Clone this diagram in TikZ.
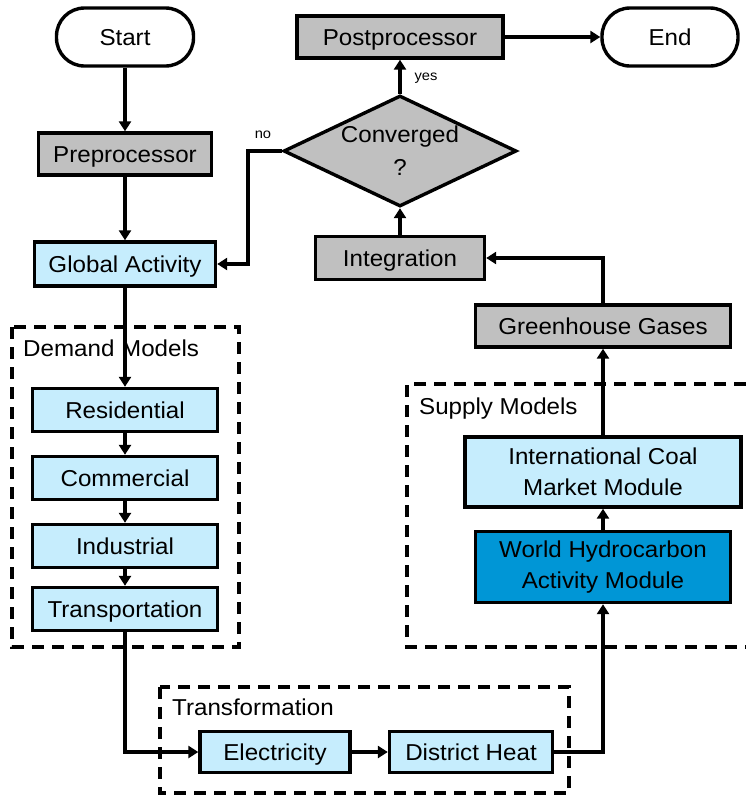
\documentclass[tikz,border=0pt]{standalone}
\usepackage{fontspec}
\setmainfont{Liberation Sans}[FakeStretch=1.05]
\usetikzlibrary{arrows.meta,shapes.geometric}
\definecolor{lightbox}{HTML}{C6EDFD}
\definecolor{graybox}{HTML}{C0C0C0}
\definecolor{darkbox}{HTML}{0096D6}
\begin{document}
\begin{tikzpicture}[x=1pt,y=-1pt,
  every node/.style={font=\fontsize{23}{27}\selectfont, inner sep=0pt},
  one/.style={text height=16.5pt, text depth=0pt},
  box/.style={draw, line width=3.4pt, rectangle, align=center},
  lbox/.style={box, fill=lightbox},
  gbox/.style={box, fill=graybox},
  dbox/.style={box, fill=darkbox},
  term/.style={draw, line width=3.4pt, rectangle, rounded corners=28pt, fill=white, one},
  conn/.style={line width=3.4pt, -{Triangle[length=10pt,width=12pt]}},
  grp/.style={line width=3.4pt, dash pattern=on 12pt off 8pt},
  small/.style={font=\fontsize{14}{16}\selectfont},
  grplabel/.style={anchor=west, one}
]
\useasboundingbox (0,0) rectangle (746,796);

% group frames
\draw[grp] (12,327) rectangle (239,647);
\node[grplabel] (dlab) at (23,348) {Demand Models};
\draw[grp] (746,384) -- (407,384) -- (407,647) -- (746,647);
\node[grplabel] (slab) at (419,406) {Supply Models};
\draw[grp] (160,687) rectangle (569,793);
\node[grplabel] (tlab) at (172,707) {Transformation};

% nodes
\node[term, minimum width=137pt, minimum height=58pt] (start) at (125,37) {Start};
\node[term, minimum width=136pt, minimum height=58pt] (end) at (670,37) {End};
\node[gbox, one, minimum width=173pt, minimum height=42pt] (pre) at (125,154) {Preprocessor};
\node[lbox, one, minimum width=181pt, minimum height=44pt] (glob) at (125,264) {Global Activity};
\node[gbox, one, minimum width=206pt, minimum height=42pt] (post) at (400,37) {Postprocessor};
\node[draw, line width=3.4pt, diamond, fill=graybox,
      minimum width=233pt, minimum height=111pt] (conv) at (400,151) {};
\node[align=center] (convtxt) at (400,151) {Converged\\[6pt]?};
\node[gbox, one, minimum width=169pt, minimum height=43pt] (integ) at (400,258) {Integration};
\node[gbox, one, minimum width=255pt, minimum height=42pt] (ghg) at (603,326) {Greenhouse Gases};
\node[lbox, minimum width=276pt, minimum height=70pt] (coal) at (603,472) {International Coal\\[4pt]Market Module};
\node[dbox, minimum width=255pt, minimum height=71pt] (wham) at (603,567) {World Hydrocarbon\\[4pt]Activity Module};
\node[lbox, one, minimum width=185pt, minimum height=43pt] (res) at (125,410) {Residential};
\node[lbox, one, minimum width=185pt, minimum height=43pt] (com) at (125,478) {Commercial};
\node[lbox, one, minimum width=185pt, minimum height=43pt] (ind) at (125,546) {Industrial};
\node[lbox, one, minimum width=185pt, minimum height=43pt] (tra) at (125,609) {Transportation};
\node[lbox, one, minimum width=150pt, minimum height=41pt] (elec) at (275,752) {Electricity};
\node[lbox, one, minimum width=163pt, minimum height=41pt] (dh) at (471,752) {District Heat};

\coordinate (noturn) at (248,151);

% connectors
\draw[conn] (start) -- (pre);
\draw[conn] (pre) -- (glob);
\draw[conn] (glob) -- (res);
\draw[conn] (res) -- (com);
\draw[conn] (com) -- (ind);
\draw[conn] (ind) -- (tra);
\draw[conn] (tra.south) |- (elec.west);
\draw[conn] (elec) -- (dh);
\draw[conn] (dh.east) -| (wham.south);
\draw[conn] (wham) -- (coal);
\draw[conn] (coal) -- (ghg);
\draw[conn] (ghg.north) |- (integ.east);
\draw[conn] (integ) -- (conv.south);
\draw[conn] (conv.north) -- (post.south);
\node[small] (yes) at (426,78) {yes};
\draw[conn] (conv.west) -- (noturn) |- (glob.east);
\node[small] (no) at (263,135) {no};
\draw[conn] (post) -- (end);
\end{tikzpicture}
\end{document}
